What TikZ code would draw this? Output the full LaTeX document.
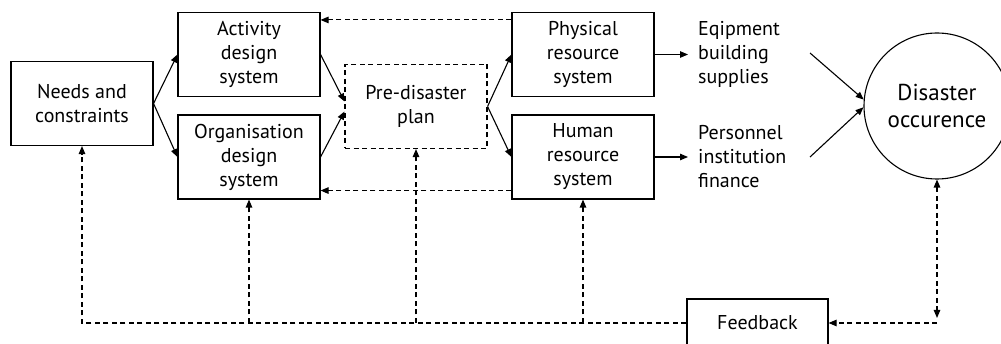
\documentclass[tikz,border=0pt]{standalone}
\usepackage{fontspec}
\setmainfont{PT Sans}
\usetikzlibrary{arrows.meta}
\begin{document}
\begin{tikzpicture}[x=1pt,y=-1pt,
  every node/.style={font=\fontsize{20}{24}\selectfont, align=center, text=black},
  box/.style={draw, line width=1.1pt, minimum width=142pt, minimum height=84pt, inner sep=0pt},
  dbox/.style={box, dash pattern=on 5pt off 3.5pt},
  label/.style={align=left, anchor=west, inner xsep=10pt, inner ysep=0pt},
  solidline/.style={line width=1.1pt},
  arr/.style={line width=1.1pt, -{Triangle[length=8pt,width=6.5pt]}},
  fb/.style={line width=1.1pt, dash pattern=on 5pt off 3.5pt},
  fbarr/.style={fb, -{Triangle[length=8pt,width=6.5pt]}},
  fbboth/.style={fb, {Triangle[length=8pt,width=6.5pt]}-{Triangle[length=8pt,width=6.5pt]}}
]
\useasboundingbox (0,0) rectangle (1001,344);
\clip (0,0) rectangle (1001,344);

% planning boxes
\node[box] (needs) at (82,103.5) {Needs and\\constraints};
\node[box] (act)   at (249,54.5) {Activity\\design\\system};
\node[box] (org)   at (249,157)  {Organisation\\design\\system};
\node[dbox] (pre)  at (416,106.5) {Pre-disaster\\plan};
\node[box] (phys)  at (583,54.5) {Physical\\resource\\system};
\node[box] (hum)   at (583,157)  {Human\\resource\\system};

% resources
\node[label] (eq)  at (688,54.5) {Eqipment\\building\\supplies};
\node[label] (per) at (688,157)  {Personnel\\institution\\finance};

% disaster and feedback
\node[draw, circle, line width=1.1pt, minimum size=146pt, inner sep=0pt,
      font=\fontsize{23}{27}\selectfont] (dis) at (937,106) {Disaster\\occurence};
\node[box, minimum width=141pt, minimum height=48pt] (fbk) at (757.5,323) {Feedback};

% forward flow
\draw[arr] (needs.east) -- (act.west);
\draw[arr] (needs.east) -- (org.west);
\draw[arr] (act.east) -- ([yshift=5pt]pre.west);
\draw[arr] (org.east) -- ([yshift=-5pt]pre.west);
\draw[arr] (pre.east) -- (phys.west);
\draw[arr] (pre.east) -- (hum.west);
\draw[arr] (phys.east) -- (eq.west);
\draw[arr] (hum.east) -- (per.west);

\coordinate (e1) at (810,53);
\coordinate (e2) at (810,157);
\draw[arr] (e1) -- (dis.175);
\draw[arr] (e2) -- (dis.181);

% feedback from the resource systems
\draw[fbarr] ([yshift=-8pt]phys.north west) -- ([yshift=-8pt]act.north east);
\draw[fbarr] ([yshift=9pt]hum.south west) -- ([yshift=9pt]org.south east);

% feedback loop along the bottom
\coordinate (corner) at (dis.south |- fbk.east);
\draw[fbboth] (dis.south) -- ([yshift=5pt]corner);
\draw[fbarr] (corner) -- (fbk.east);
\draw[fbarr] (fbk.west) -| (needs.south);
\draw[fbarr] (fbk.west -| org.south) -- (org.south);
\draw[fbarr] (fbk.west -| pre.south) -- (pre.south);
\draw[fbarr] (fbk.west -| hum.south) -- (hum.south);
\end{tikzpicture}
\end{document}
